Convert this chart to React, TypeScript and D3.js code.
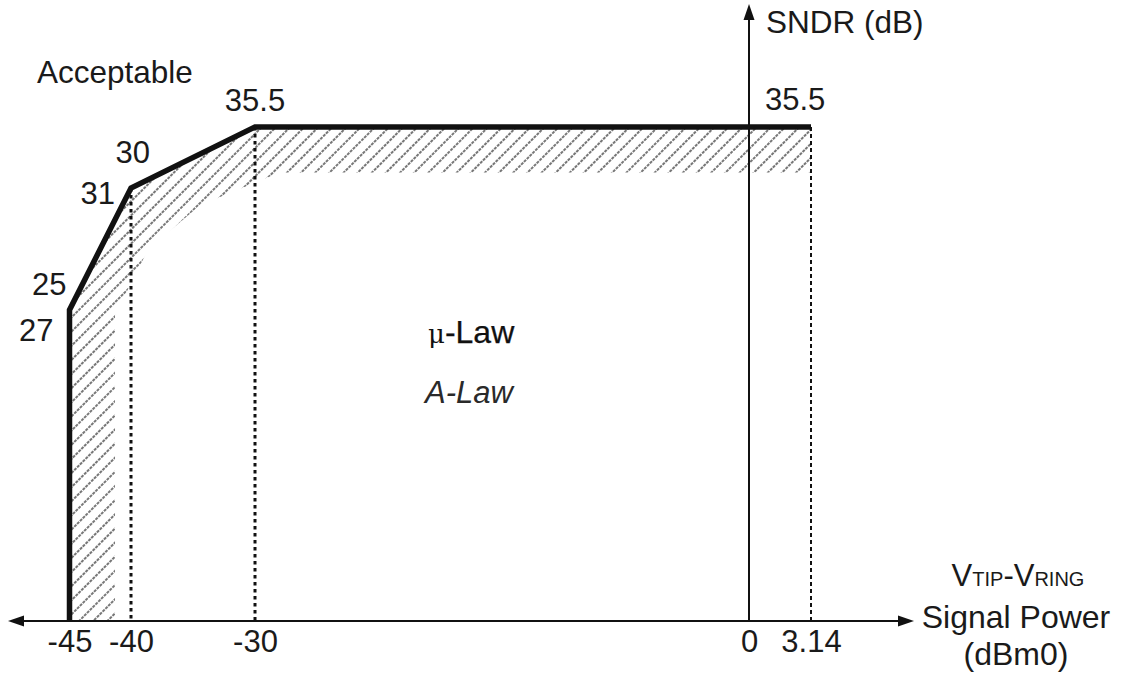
import { useEffect, useRef } from 'react'
import * as d3 from 'd3'

// schematic axes: ticks are not evenly spaced in the source figure
const X_TICKS = [-45, -40, -30, 0, 3.14]
const X_TICK_LABELS = ['-45', '-40', '-30', '0', '3.14']
const Y_KNOTS = [0, 25, 30, 35.5]

// μ-law acceptable boundary (thick line)
const MU_X = [-45, -45, -40, -30, 3.14]
const MU_Y = [0, 25, 30, 35.5, 35.5]

// inner edge of the hatched band (A-law boundary)
const HATCH_X = [3.14, -28.5, -34.4, -38.6, -41.3, -41.3]
const HATCH_Y = [31.4, 31.4, 29.3, 27.5, 24.6, 0]

// point labels: [x, value]
const MU_LABELS = [
  [-45, '25'],
  [-40, '30'],
]
const A_LABELS = [
  [-45, '27'],
  [-40, '31'],
]
const TOP_LABELS = [
  [-30, '35.5'],
  [0, '35.5'],
]
// dotted drop lines: [x, y]
const DROPS = [
  [-40, 30],
  [-30, 35.5],
  [3.14, 35.5],
]

const W = 1123
const H = 679
const FONT = 'Liberation Sans, Arial, sans-serif'

export default function App() {
  const ref = useRef<SVGSVGElement>(null)

  useEffect(() => {
    document.body.style.margin = '0'
    if (!ref.current) return
    const svg = d3.select(ref.current)
    svg.selectAll('*').remove()

    const x = d3.scaleLinear().domain(X_TICKS).range([69.5, 131, 255, 749, 811])
    const y = d3.scaleLinear().domain(Y_KNOTS).range([621, 310, 188, 127])
    const y0 = y(0)

    const defs = svg.append('defs')
    const pat = defs
      .append('pattern')
      .attr('id', 'hatch')
      .attr('patternUnits', 'userSpaceOnUse')
      .attr('width', 12)
      .attr('height', 10)
      .attr('patternTransform', 'rotate(-45)')
    pat
      .append('line')
      .attr('x1', 0)
      .attr('x2', 12)
      .attr('y1', 5)
      .attr('y2', 5)
      .attr('stroke', '#4a4a4a')
      .attr('stroke-width', 1.3)
      .attr('stroke-dasharray', '3 1')

    // hatched band between the two boundaries
    const outer = MU_X.map((v, i) => [x(v), y(MU_Y[i])] as [number, number])
    const inner = HATCH_X.map((v, i) => [x(v), y(HATCH_Y[i])] as [number, number])
    svg
      .append('path')
      .attr('d', d3.line()([...outer, ...inner]) + 'Z')
      .attr('fill', 'url(#hatch)')

    // dotted drop lines
    svg
      .append('g')
      .selectAll('line')
      .data(DROPS)
      .enter()
      .append('line')
      .attr('x1', (d) => x(d[0] as number))
      .attr('x2', (d) => x(d[0] as number))
      .attr('y1', (d) => y(d[1] as number))
      .attr('y2', y0)
      .attr('stroke', '#111')
      .attr('stroke-width', (d) => (d[0] === 3.14 ? 2 : 3))
      .attr('stroke-dasharray', (d) => (d[0] === 3.14 ? '4 3' : '3.5 3.5'))

    // axes
    const axG = svg.append('g').attr('transform', `translate(0,${y0})`)
    axG.call(d3.axisBottom(x).tickValues(X_TICKS).tickSize(0).tickFormat((_, i) => X_TICK_LABELS[i]))
    axG.select('.domain').remove()
    axG
      .selectAll('.tick text')
      .attr('y', 31)
      .attr('dy', 0)
      .attr('fill', '#1a1a1a')
      .attr('font-size', 31)
      .attr('font-family', FONT)

    svg
      .append('line')
      .attr('x1', 20)
      .attr('x2', 900)
      .attr('y1', y0)
      .attr('y2', y0)
      .attr('stroke', '#111')
      .attr('stroke-width', 2)
    svg
      .append('path')
      .attr('d', `M8,${y0} L24,${y0 - 5.5} L24,${y0 + 5.5} Z`)
      .attr('fill', '#111')
    svg
      .append('path')
      .attr('d', `M914,${y0} L898,${y0 - 5.5} L898,${y0 + 5.5} Z`)
      .attr('fill', '#111')

    const yx = x(0)
    svg
      .append('line')
      .attr('x1', yx)
      .attr('x2', yx)
      .attr('y1', y0)
      .attr('y2', 16)
      .attr('stroke', '#111')
      .attr('stroke-width', 2)
    svg
      .append('path')
      .attr('d', `M${yx},4 L${yx - 5.5},20 L${yx + 5.5},20 Z`)
      .attr('fill', '#111')

    // thick μ-law line
    svg
      .append('path')
      .attr('d', d3.line()(outer))
      .attr('fill', 'none')
      .attr('stroke', '#111')
      .attr('stroke-width', 5.5)
      .attr('stroke-linejoin', 'miter')

    const txt = (tx: number, ty: number, s: string, anchor = 'start', size = 31) =>
      svg
        .append('text')
        .attr('x', tx)
        .attr('y', ty)
        .attr('text-anchor', anchor)
        .attr('font-family', FONT)
        .attr('font-size', size)
        .attr('fill', '#1a1a1a')
        .text(s)

    // point labels
    txt(x(MU_LABELS[0][0] as number) - 3, 295, MU_LABELS[0][1] as string, 'end')
    txt(x(MU_LABELS[1][0] as number) + 19, 163, MU_LABELS[1][1] as string, 'end')
    txt(x(A_LABELS[0][0] as number) - 16, 341, A_LABELS[0][1] as string, 'end')
    txt(x(A_LABELS[1][0] as number) - 16, 204, A_LABELS[1][1] as string, 'end')
    txt(x(TOP_LABELS[0][0] as number), 111, TOP_LABELS[0][1] as string, 'middle')
    txt(x(TOP_LABELS[1][0] as number) + 16, 110, TOP_LABELS[1][1] as string, 'start')

    txt(37, 83, 'Acceptable', 'start', 31.5)
    txt(766, 33, 'SNDR (dB)', 'start', 31.5)

    // labels in the middle
    const mu = svg
      .append('text')
      .attr('x', 428)
      .attr('y', 343)
      .attr('font-family', FONT)
      .attr('font-size', 32)
      .attr('fill', '#111')
    mu.append('tspan').attr('font-family', 'DejaVu Serif, serif').attr('font-size', 26).text('μ')
    mu.append('tspan').attr('stroke', '#111').attr('stroke-width', 0.25).text('-Law')
    svg
      .append('text')
      .attr('x', 425)
      .attr('y', 403)
      .attr('font-family', FONT)
      .attr('font-size', 31)
      .attr('font-style', 'italic')
      .attr('fill', '#2a2a2a')
      .text('A-Law')

    // x-axis title
    const vt = svg
      .append('text')
      .attr('x', 1018)
      .attr('y', 586)
      .attr('text-anchor', 'middle')
      .attr('font-family', FONT)
      .attr('font-size', 31)
      .attr('fill', '#1a1a1a')
    vt.append('tspan').text('V')
    vt.append('tspan').attr('font-size', 20).text('TIP')
    vt.append('tspan').text('-V')
    vt.append('tspan').attr('font-size', 20).text('RING')
    txt(1016, 628, 'Signal Power', 'middle', 32)
    txt(1016, 665, '(dBm0)', 'middle', 32)
  }, [])

  return <svg ref={ref} width={W} height={H} style={{ display: 'block', background: '#fff' }} />
}
